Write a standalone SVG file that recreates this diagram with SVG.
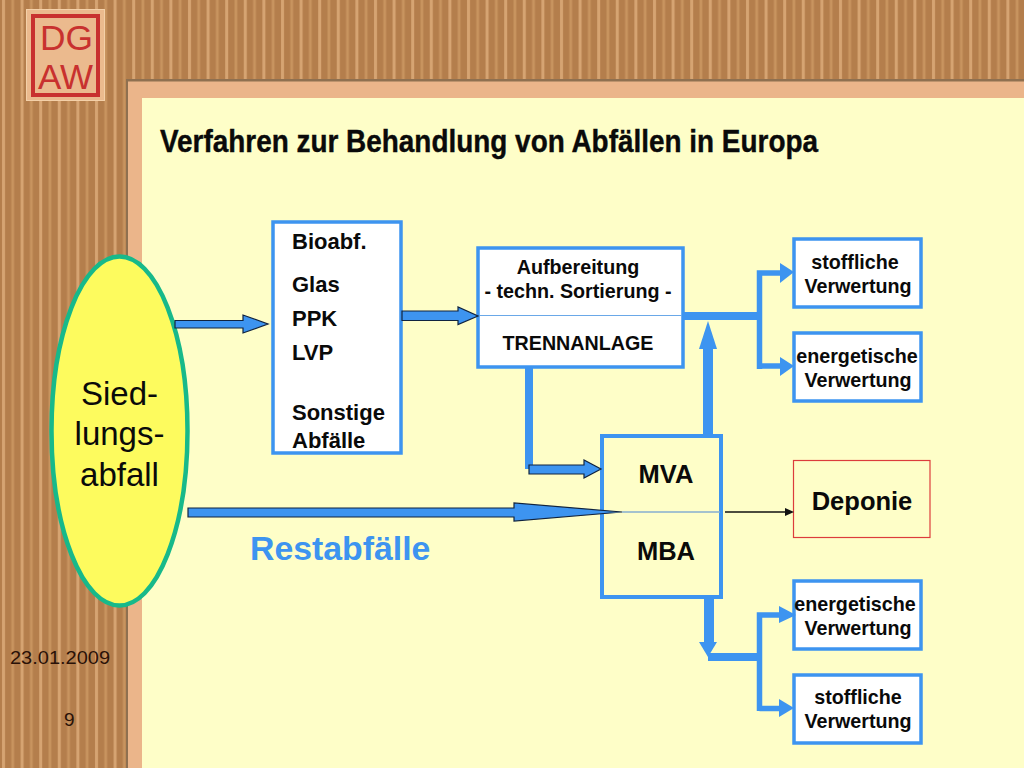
<svg xmlns="http://www.w3.org/2000/svg" width="1024" height="768" viewBox="0 0 1024 768">
<style>
text{font-family:"Liberation Sans",Arial,sans-serif;fill:#0a0a0a}
.b{font-weight:bold}
.m{text-anchor:middle}
.t22{font-size:22px;font-weight:bold}
.t198{font-size:19.7px;font-weight:bold}
.t25{font-size:25.500px;font-weight:bold}
.t33{font-size:33px}
.logo{fill:#c8312f;font-size:35px}
.foot{fill:#2a1208;font-size:19px}
.box{fill:#fff;stroke:#3d94f0;stroke-width:3.5}
.arr{fill:#3d94f0;stroke:#10233f;stroke-width:1.2}
.fill{fill:#3d94f0}
.bar{fill:none;stroke:#3d94f0;stroke-width:5.500}
</style>
<defs>
<pattern id="wood" width="18.6" height="8" patternUnits="userSpaceOnUse">
<rect width="18.6" height="8" fill="#b47e4c"/>
<rect x="2" width="3" height="8" fill="#d6a472"/>
<rect x="11.300" width="2.800" height="8" fill="#c8945f"/>
</pattern>
</defs>
<g id="background">
<rect width="1024" height="768" fill="url(#wood)"/>
<rect x="126" y="79" width="898" height="689" fill="#8f7050"/>
<rect x="128" y="81.500" width="896" height="686.500" fill="#ebb58a"/>
<rect x="142" y="98" width="882" height="670" fill="#fefec8"/>
</g>
<g id="logo">
<rect x="26.500" y="9.500" width="78" height="91" fill="#ebba8e" stroke="#f4d0a8"/>
<rect x="33" y="16" width="65" height="79" fill="#ebba8e" stroke="#c8312f" stroke-width="4"/>
<text x="40" y="50" class="logo" textLength="53" lengthAdjust="spacingAndGlyphs">DG</text>
<text x="38" y="89" class="logo" textLength="55" lengthAdjust="spacingAndGlyphs">AW</text>
</g>
<g id="title">
<text x="160" y="151.500" class="b" font-size="31.500" textLength="658" lengthAdjust="spacingAndGlyphs" stroke="#0a0a0a" stroke-width="0.400">Verfahren zur Behandlung von Abfällen in Europa</text>
</g>
<g id="footer">
<text x="10" y="663.500" class="foot" textLength="100" lengthAdjust="spacingAndGlyphs">23.01.2009</text>
<text x="64" y="725.500" class="foot">9</text>
</g>
<g id="node-siedlungsabfall">
<ellipse cx="119.500" cy="431" rx="68" ry="174.500" fill="#fdfb5e" stroke="#17b98a" stroke-width="4.500"/>
<text class="m t33" x="119.500" y="405">Sied-</text>
<text class="m t33" x="119.500" y="445">lungs-</text>
<text class="m t33" x="119.500" y="486">abfall</text>
</g>
<g id="node-fractions">
<rect class="box" x="273" y="222" width="128" height="231"/>
<text class="t22" x="292" y="249">Bioabf.</text>
<text class="t22" x="292" y="292">Glas</text>
<text class="t22" x="292" y="326">PPK</text>
<text class="t22" x="292" y="360">LVP</text>
<text class="t22" x="292" y="420">Sonstige</text>
<text class="t22" x="292" y="448">Abfälle</text>
</g>
<g id="node-trennanlage">
<rect class="box" x="478" y="248" width="205" height="119"/>
<line x1="479" y1="315.500" x2="682" y2="315.500" stroke="#6aa8e8" stroke-width="1.200"/>
<text class="m t198" x="578" y="273.500">Aufbereitung</text>
<text class="m t198" x="578" y="297.500">- techn. Sortierung -</text>
<text class="m t198" x="578" y="349.500">TRENNANLAGE</text>
</g>
<g id="node-mva-mba">
<rect x="602" y="436" width="119" height="161" fill="#fefec8" stroke="#3d94f0" stroke-width="4"/>
<line x1="622" y1="512" x2="720" y2="512" stroke="#86aed0" stroke-width="1.500"/>
<text class="m t25" x="666" y="482.500">MVA</text>
<text class="m t25" x="666" y="559.500">MBA</text>
</g>
<g id="node-deponie">
<rect x="793.500" y="460.500" width="136.500" height="77" fill="#fefec8" stroke="#dc3c3c" stroke-width="1.200"/>
<text class="m t25" x="862" y="509.500">Deponie</text>
</g>
<g id="node-stoff1">
<rect class="box" x="794" y="239" width="127" height="68"/>
<text class="m t198" x="855" y="268.500">stoffliche</text>
<text class="m t198" x="858" y="292.500">Verwertung</text>
</g>
<g id="node-energ1">
<rect class="box" x="794" y="333" width="127" height="68"/>
<text class="m t198" x="857" y="362.500">energetische</text>
<text class="m t198" x="858" y="386.500">Verwertung</text>
</g>
<g id="node-energ2">
<rect class="box" x="794" y="581" width="127" height="68"/>
<text class="m t198" x="855" y="610.500">energetische</text>
<text class="m t198" x="858" y="634.500">Verwertung</text>
</g>
<g id="node-stoff2">
<rect class="box" x="794" y="675" width="127" height="68"/>
<text class="m t198" x="858" y="703.500">stoffliche</text>
<text class="m t198" x="858" y="727.500">Verwertung</text>
</g>
<text id="label-restabfaelle" x="250" y="559.500" class="b" font-size="33.800" style="fill:#3d94f0">Restabfälle</text>
<g id="connectors">
<polygon class="arr" points="175,320.500 243,320.500 243,315 268,324 243,333 243,328 175,328"/>
<polygon class="arr" points="402,311 458,311 458,307 478,316 458,324.500 458,320.500 402,320.500"/>
<polygon class="arr" points="188,508 514,508 514,503 622,512 514,521 514,517 188,517"/>
<rect class="fill" x="525" y="367" width="8" height="102"/>
<polygon class="arr" points="529,465 584,465 584,460 601,469 584,478 584,474 529,474"/>
<rect class="fill" x="703" y="349" width="10" height="85"/>
<polygon class="fill" points="708,321 717,349 699,349"/>
<rect class="fill" x="683" y="312" width="77" height="8"/>
<path class="bar" d="M759.500,369 V273 H785"/>
<path class="bar" d="M759.500,366 H785"/>
<polygon class="fill" points="780,263 794,272 780,283"/>
<polygon class="fill" points="780,357 794,366 780,376"/>
<rect class="fill" x="704" y="599" width="10" height="44"/>
<polygon class="fill" points="699,642 717,642 708,657"/>
<rect class="fill" x="708" y="653" width="52" height="8"/>
<path class="bar" d="M759.500,711 V615 H785"/>
<path class="bar" d="M759.500,708.500 H785"/>
<polygon class="fill" points="779,606 796,615 779,623"/>
<polygon class="fill" points="779,699 794,708 779,717"/>
<line x1="725" y1="512" x2="786" y2="512" stroke="#111" stroke-width="1.300"/>
<polygon points="785,508 794,512 785,516" fill="#111"/>
</g>
</svg>
